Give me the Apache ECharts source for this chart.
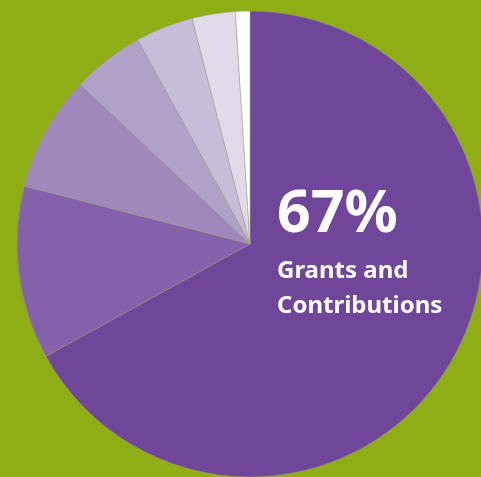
<!DOCTYPE html>
<html><head><meta charset="utf-8">
<script src="https://cdn.jsdelivr.net/npm/echarts@6/dist/echarts.min.js"></script>
<style>html,body{margin:0;padding:0;background:#8FAD15;}#c{width:481px;height:477px;}</style>
</head><body><div id="c"></div>
<script>
const categories = ['Grants and Contributions','Category 2','Category 3','Category 4','Category 5','Category 6','Category 7'];
const values = [67, 12, 8, 5, 4, 3, 1];
const colors = ['#6F4699','#8561AB','#A087BC','#B0A1C8','#C6BDD9','#E0DAEA','#FFFFFF'];
const bigLabel = '67%';
const subLabel = ['Grants and', 'Contributions'];

const chart = echarts.init(document.getElementById('c'), null, {renderer:'canvas'});
chart.setOption({
  backgroundColor: '#8FAD15',
  animation: false,
  series: [{
    type: 'pie',
    center: [250, 244],
    radius: [0, 233],
    startAngle: 90,
    clockwise: true,
    label: {show: false},
    labelLine: {show: false},
    emphasis: {disabled: true},
    itemStyle: {borderColor: '#9C9C80', borderWidth: 0.5},
    data: categories.map((n, i) => ({name: n, value: values[i], itemStyle: {color: colors[i]}}))
  }],
  graphic: {
    elements: [
      {type:'text', x: 277, y: 186, z: 100, style:{text: bigLabel, fill:'#ffffff', fontSize: 59, fontWeight:'bold', fontFamily:'Noto Sans'}},
      {type:'text', x: 277, y: 259, z: 100, style:{text: subLabel[0], fill:'#ffffff', fontSize: 24, fontWeight:'bold', fontFamily:'Noto Sans'}},
      {type:'text', x: 277, y: 294, z: 100, style:{text: subLabel[1], fill:'#ffffff', fontSize: 24, fontWeight:'bold', fontFamily:'Noto Sans'}}
    ]
  }
});
</script></body></html>
